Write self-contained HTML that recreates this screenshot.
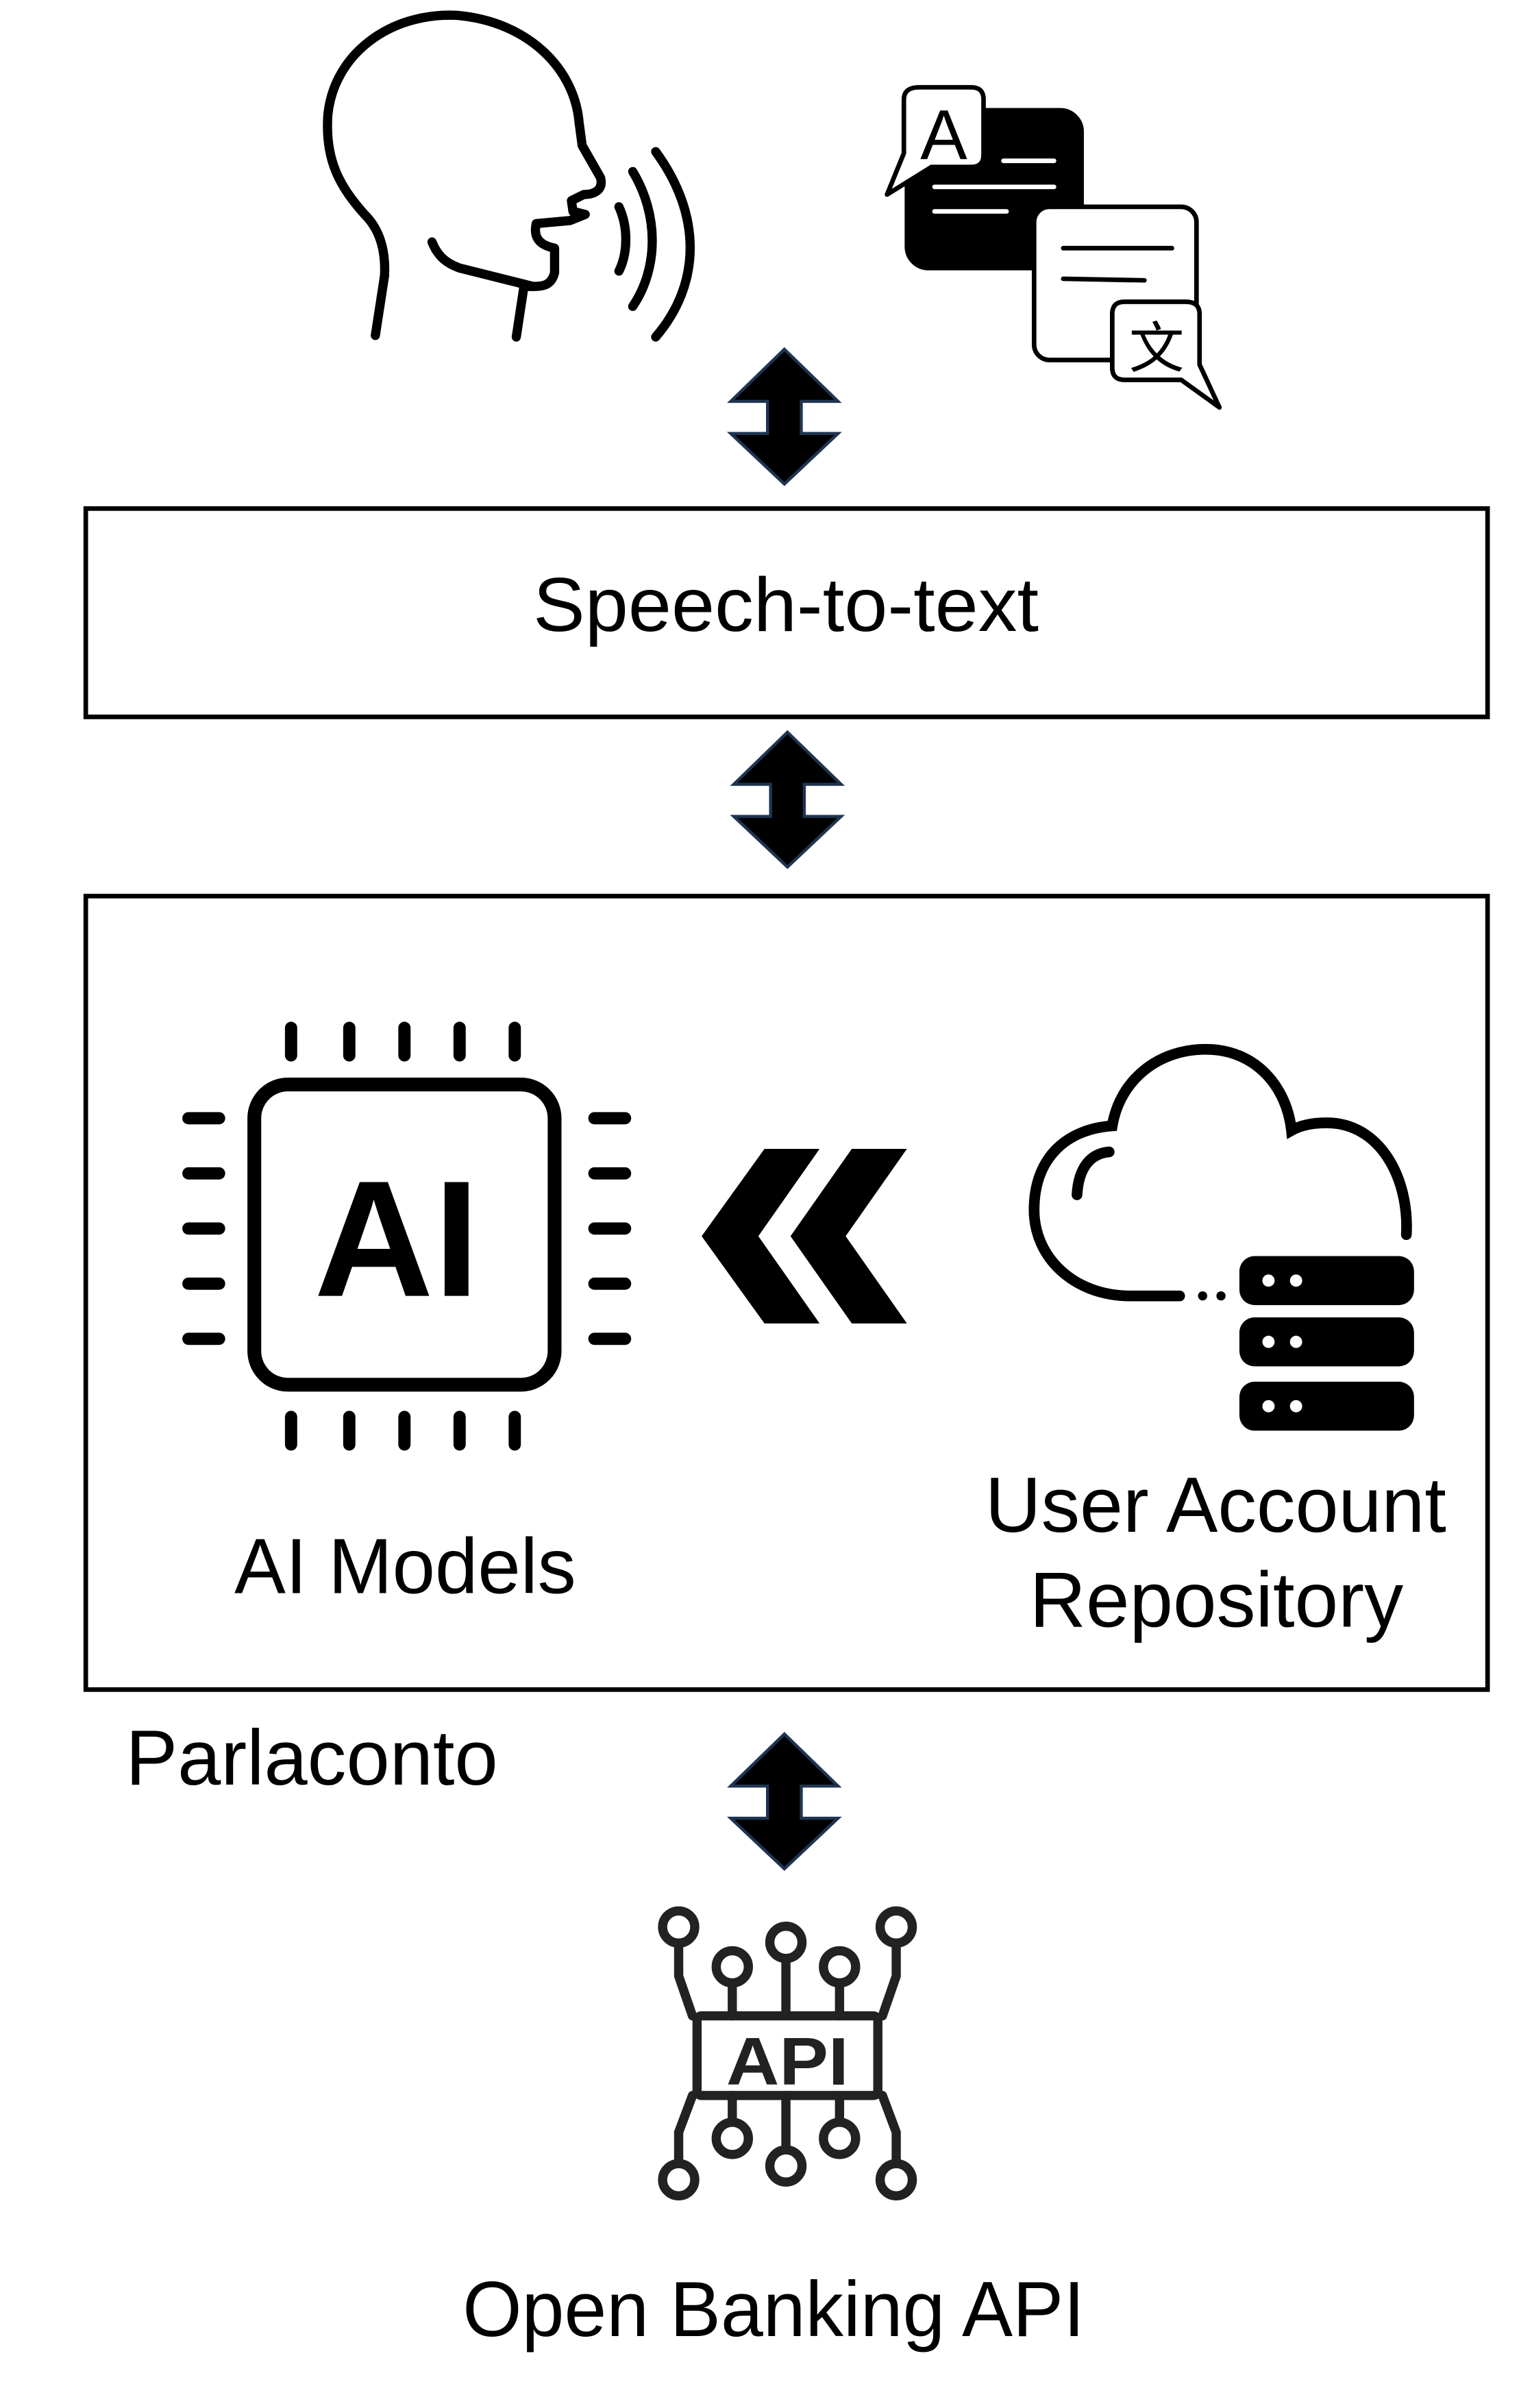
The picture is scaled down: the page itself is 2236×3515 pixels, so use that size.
<!DOCTYPE html>
<html><head><meta charset="utf-8"><style>
html,body{margin:0;padding:0;background:#fff}
svg{display:block}
text{font-family:"Liberation Sans","Noto Sans CJK SC",sans-serif}
</style></head><body>
<svg width="2236" height="3515" viewBox="0 0 2236 3515" xmlns="http://www.w3.org/2000/svg">
<rect width="2236" height="3515" fill="#fff"/>
<g transform="scale(2.236)">
<!-- head -->
<g fill="none" stroke="#000" stroke-width="6" stroke-linecap="round" stroke-linejoin="round">
<path d="M245,219 L251,180 C252,160 246,148 238,140 C222,122 212,105 214,75 C218,35 255,8 298,10 C345,14 375,45 378,80 L380,95 L392,116 C394,124 388,127 381,127 L373,131 L374,138 L382,140 L372,144 L350,146 C348,155 352,160 362,162 L362,178 C360,186 355,187 348,187 L342,187 L337,220"/>
<path d="M282,158 C286,168 292,172 300,175 L348,187"/>
<path d="M404,135 C410,148 410,165 404,177"/>
<path d="M413,112 C430,140 430,175 413,200"/>
<path d="M428,99 C458,140 458,185 428,220"/>
</g>
<!-- translate icon -->
<g stroke="#000" stroke-width="3" stroke-linejoin="round">
<rect x="592" y="72" width="114" height="103" rx="14" fill="#000"/>
<path d="M600,57 L634,57 Q642,57 642,65 L642,101 Q642,109 634,109 L608,109 L579,127 L590,100 L590,65 Q590,57 600,57 Z" fill="#fff"/>
<rect x="675" y="135" width="106" height="100" rx="10" fill="#fff"/>
<path d="M734,197 L774,197 Q783,197 783,205 L783,238 L796,266 L771,248 L734,248 Q726,248 726,240 L726,205 Q726,197 734,197 Z" fill="#fff"/>
</g>
<g stroke="#fff" stroke-width="3" stroke-linecap="round">
<line x1="655" y1="105" x2="688" y2="105"/><line x1="610" y1="122" x2="688" y2="122"/><line x1="610" y1="138" x2="657" y2="138"/>
</g>
<g stroke="#000" stroke-width="3" stroke-linecap="round">
<line x1="694" y1="162" x2="765" y2="162"/><line x1="694" y1="182" x2="747" y2="183"/>
</g>
<text x="616" y="104" font-size="46" text-anchor="middle">A</text>
<text x="755" y="240" font-size="36" text-anchor="middle" font-family="Noto Sans CJK SC,sans-serif">文</text>
<!-- arrows -->
<g fill="#000" stroke="#1f3450" stroke-width="2">
<polygon points="512,228 547,262 523,262 523,283 547,283 512,316 477,283 501,283 501,262 477,262"/>
<polygon points="514,478 549,512 525,512 525,533 549,533 514,566 479,533 503,533 503,512 479,512"/>
<polygon points="512,1132 547,1166 523,1166 523,1187 547,1187 512,1220 477,1187 501,1187 501,1166 477,1166"/>
</g>
<!-- boxes -->
<rect x="56" y="332" width="915" height="136" fill="none" stroke="#000" stroke-width="3"/>
<text x="348" y="412" font-size="50" textLength="330" lengthAdjust="spacingAndGlyphs">Speech-to-text</text>
<rect x="56" y="585" width="915" height="518" fill="none" stroke="#000" stroke-width="3"/>
<!-- chip -->
<rect x="166" y="708" width="196" height="196" rx="22" fill="none" stroke="#000" stroke-width="9"/>
<g stroke="#000" stroke-width="8" stroke-linecap="round">
<path d="M190,671V689M228,671V689M264,671V689M300,671V689M336,671V689"/>
<path d="M190,925V943M228,925V943M264,925V943M300,925V943M336,925V943"/>
<path d="M123,730H143M123,766H143M123,802H143M123,838H143M123,874H143"/>
<path d="M388,730H408M388,766H408M388,802H408M388,838H408M388,874H408"/>
</g>
<text x="259" y="846" font-size="108" font-weight="bold" text-anchor="middle" textLength="108" lengthAdjust="spacingAndGlyphs">AI</text>
<!-- chevrons -->
<polygon points="499,750 535,750 495,807 535,864 499,864 458,807" fill="#000"/>
<polygon points="556,750 592,750 552,807 592,864 556,864 516,807" fill="#000"/>
<!-- cloud -->
<g fill="none" stroke="#000" stroke-width="7" stroke-linecap="round">
<path d="M770,846 L738,846 C700,846 675,820 675,790 C675,755 697,737 726,735 C731,705 756,685 787,685 C820,685 840,710 843,738 C850,734 858,733 866,733 C900,733 920,768 918,806"/>
<path d="M703,780 C704,762 712,753 724,752"/>
</g>
<circle cx="785" cy="846" r="3" fill="#000"/><circle cx="797" cy="846" r="3" fill="#000"/>
<g fill="#000"><rect x="809" y="820" width="114" height="32" rx="10"/><rect x="809" y="860" width="114" height="32" rx="10"/><rect x="809" y="902" width="114" height="32" rx="10"/></g>
<g fill="#fff"><circle cx="828" cy="836" r="4"/><circle cx="846" cy="836" r="4"/><circle cx="828" cy="876" r="4"/><circle cx="846" cy="876" r="4"/><circle cx="828" cy="918" r="4"/><circle cx="846" cy="918" r="4"/></g>
<text x="153" y="1040" font-size="51" textLength="223" lengthAdjust="spacingAndGlyphs">AI Models</text>
<text x="643" y="1000" font-size="51" textLength="301" lengthAdjust="spacingAndGlyphs">User Account</text>
<text x="672" y="1062" font-size="51" textLength="244" lengthAdjust="spacingAndGlyphs">Repository</text>
<text x="82" y="1165" font-size="51" textLength="243" lengthAdjust="spacingAndGlyphs">Parlaconto</text>
<!-- API icon -->
<g fill="none" stroke="#222" stroke-width="6" stroke-linecap="round" stroke-linejoin="round">
<rect x="455" y="1316" width="118" height="52" rx="3"/>
<circle cx="443" cy="1258" r="10.5"/><circle cx="478" cy="1284" r="10.5"/><circle cx="513" cy="1268" r="10.5"/><circle cx="548" cy="1284" r="10.5"/><circle cx="585" cy="1258" r="10.5"/>
<circle cx="443" cy="1423" r="10.5"/><circle cx="478" cy="1396" r="10.5"/><circle cx="513" cy="1414" r="10.5"/><circle cx="548" cy="1396" r="10.5"/><circle cx="585" cy="1423" r="10.5"/>
<path d="M443,1269V1290L452,1316M478,1295V1316M513,1279V1316M548,1295V1316M585,1269V1290L576,1316"/>
<path d="M452,1368L443,1392V1412M478,1368V1385M513,1368V1403M548,1368V1385M576,1368L585,1392V1412"/>
</g>
<text x="514" y="1361" font-size="44" font-weight="bold" text-anchor="middle" fill="#222" textLength="80" lengthAdjust="spacingAndGlyphs">API</text>
<text x="302" y="1525" font-size="51" textLength="406" lengthAdjust="spacingAndGlyphs">Open Banking API</text>
</g>
</svg>
</body></html>
